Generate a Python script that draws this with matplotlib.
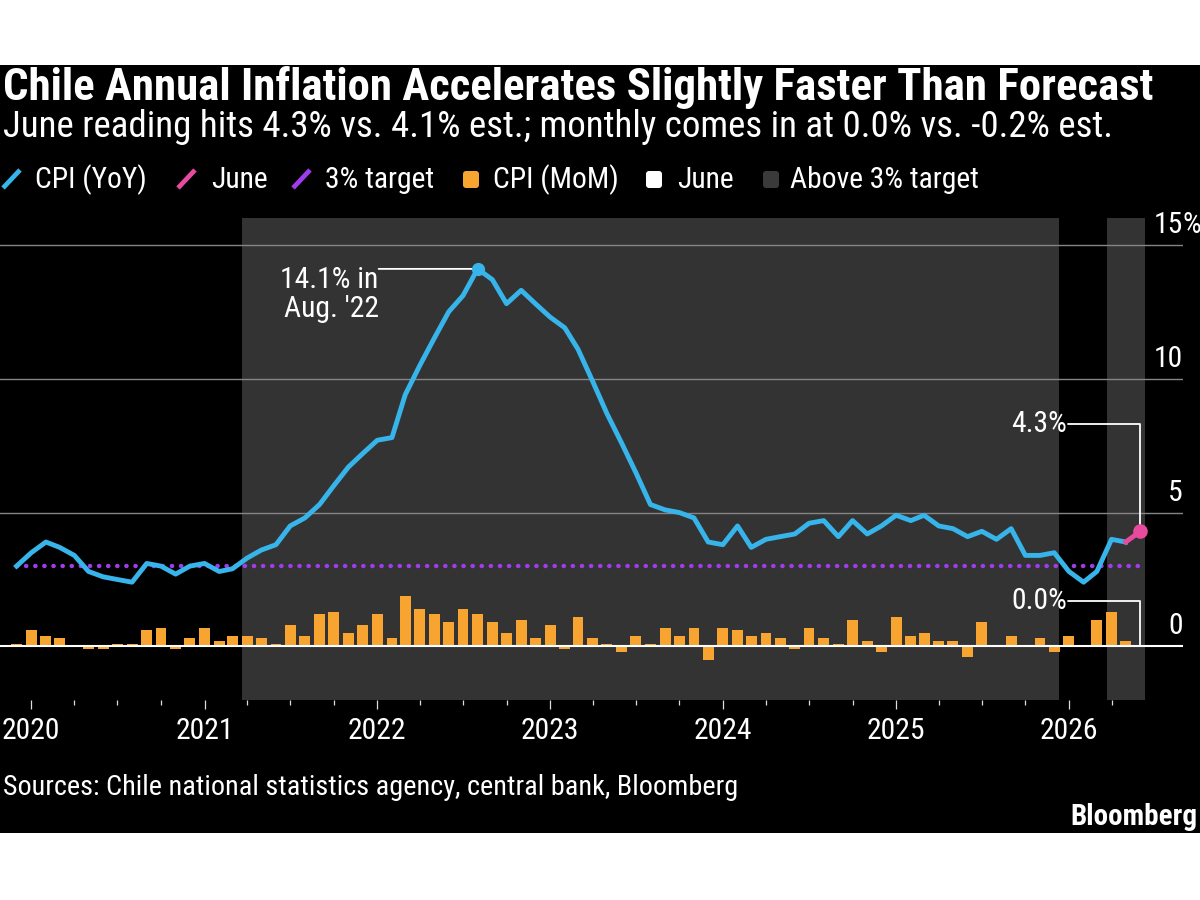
import os
import datetime as dt
import matplotlib
matplotlib.use("Agg")
import matplotlib.pyplot as plt
import matplotlib.dates as mdates
import matplotlib.transforms as mtransforms
from matplotlib import font_manager as fm
from matplotlib.patches import Rectangle, FancyBboxPatch
from matplotlib.lines import Line2D
import numpy as np
import pandas as pd

# ---------------- data ----------------
start_month = "2019-12"
cpi_yoy = [3.0,
           3.5, 3.9, 3.7, 3.4, 2.8, 2.6, 2.5, 2.4, 3.1, 3.0, 2.7, 3.0,
           3.1, 2.8, 2.9, 3.3, 3.6, 3.8, 4.5, 4.8, 5.3, 6.0, 6.7, 7.2,
           7.7, 7.8, 9.4, 10.5, 11.5, 12.5, 13.1, 14.1, 13.7, 12.8, 13.3, 12.8,
           12.3, 11.9, 11.1, 9.9, 8.7, 7.6, 6.5, 5.3, 5.1, 5.0, 4.8, 3.9,
           3.8, 4.5, 3.7, 4.0, 4.1, 4.2, 4.6, 4.7, 4.1, 4.7, 4.2, 4.5,
           4.9, 4.7, 4.9, 4.5, 4.4, 4.1, 4.3, 4.0, 4.4, 3.4, 3.4, 3.5,
           2.8, 2.4, 2.8, 4.0, 3.9, 4.3]
cpi_mom = [0.1,
           0.6, 0.4, 0.3, 0.0, -0.1, -0.1, 0.1, 0.1, 0.6, 0.7, -0.1, 0.3,
           0.7, 0.2, 0.4, 0.4, 0.3, 0.1, 0.8, 0.4, 1.2, 1.3, 0.5, 0.8,
           1.2, 0.3, 1.9, 1.4, 1.2, 0.9, 1.4, 1.2, 0.9, 0.5, 1.0, 0.3,
           0.8, -0.1, 1.1, 0.3, 0.1, -0.2, 0.4, 0.1, 0.7, 0.4, 0.7, -0.5,
           0.7, 0.6, 0.4, 0.5, 0.3, -0.1, 0.7, 0.3, 0.1, 1.0, 0.2, -0.2,
           1.1, 0.4, 0.5, 0.2, 0.2, -0.4, 0.9, 0.0, 0.4, 0.0, 0.3, -0.2,
           0.4, 0.0, 1.0, 1.3, 0.2, 0.0]
target_rate = 3.0
shade_periods = [("2021-04", "2025-12"), ("2026-04", "2026-06")]
y_ticks = [0, 5, 10, 15]
tick_years = ["2020", "2021", "2022", "2023", "2024", "2025", "2026"]
peak_label = "14.1% in\nAug. '22"
last_yoy_label = "4.3%"
last_mom_label = "0.0%"
title = "Chile Annual Inflation Accelerates Slightly Faster Than Forecast"
subtitle = "June reading hits 4.3% vs. 4.1% est.; monthly comes in at 0.0% vs. -0.2% est."
legend_labels = ["CPI (YoY)", "June", "3% target", "CPI (MoM)", "June", "Above 3% target"]
source = "Sources: Chile national statistics agency, central bank, Bloomberg"
brand = "Bloomberg"

# ---------------- style ----------------
BLUE = "#37b4ea"
PINK = "#e84a9f"
PURPLE = "#9f3ded"
ORANGE = "#f7a431"
SHADE = "#333333"
GRID = "#858585"

def find_font(names):
    for nm in names:
        for f in fm.fontManager.ttflist:
            if os.path.basename(f.fname).lower() == nm.lower():
                return f.fname
    return None

reg_path = find_font(["RobotoCondensed-Regular.ttf", "LiberationSansNarrow-Regular.ttf",
                      "DejaVuSansCondensed.ttf"])
bold_path = find_font(["RobotoCondensed-Bold.ttf", "LiberationSansNarrow-Bold.ttf",
                       "DejaVuSansCondensed-Bold.ttf"])
fp_reg = fm.FontProperties(fname=reg_path) if reg_path else fm.FontProperties(family="DejaVu Sans")
fp_bold = fm.FontProperties(fname=bold_path) if bold_path else fm.FontProperties(family="DejaVu Sans", weight="bold")

W, H, DPI = 1200, 900, 100
fig = plt.figure(figsize=(W / DPI, H / DPI), dpi=DPI, facecolor="white")
# pixel transform, origin top-left
T = mtransforms.Affine2D().scale(1 / DPI, -1 / DPI).translate(0, H / DPI) + fig.dpi_scale_trans

fig.patches.append(Rectangle((0, 65), W, 833 - 65, transform=T, facecolor="black",
                             edgecolor="none", zorder=-10))

renderer = fig.canvas.get_renderer()

def ptext(x, y, s, fp, size=16, **kw):
    return fig.text(x, y, s, transform=T, fontproperties=fp, fontsize=size, color="white", **kw)

def fit(t, width):
    w = t.get_window_extent(renderer=renderer).width
    t.set_fontsize(t.get_fontsize() * width / w)
    return t.get_fontsize()

t_title = ptext(3, 100, title, fp_bold, 24, va="baseline", ha="left")
fit(t_title, 1152)
t_sub = ptext(3, 137, subtitle, fp_reg, 20, va="baseline", ha="left")
fit(t_sub, 1109)

# legend
leg_y = 188
t_probe = ptext(790, leg_y, legend_labels[5], fp_reg, 16, va="baseline", ha="left")
LS = fit(t_probe, 190)
leg_text_x = [35, 211, 325, 493, 677]
for x, s in zip(leg_text_x, legend_labels[:5]):
    ptext(x, leg_y, s, fp_reg, LS, va="baseline", ha="left")
for x0, c in zip([3, 178, 293], [BLUE, PINK, PURPLE]):
    fig.add_artist(Line2D([x0, x0 + 17], [188, 170], transform=T, color=c, lw=3.4,
                          solid_capstyle="butt"))
for x0, c in zip([463, 646, 763], [ORANGE, "white", "#3a3a3a"]):
    fig.add_artist(FancyBboxPatch((x0, 171), 16, 17, transform=T, facecolor=c,
                                  edgecolor="none", boxstyle="round,pad=0,rounding_size=3"))

t_src = ptext(3, 795, source, fp_reg, 16, va="baseline", ha="left")
fit(t_src, 737)
t_brand = ptext(1197, 825, brand, fp_bold, 16, va="baseline", ha="right")
fit(t_brand, 127)

# ---------------- axes ----------------
ax = fig.add_axes([0, 1 - 700 / H, 1183 / W, (700 - 218) / H])
ax.set_facecolor("none")
ax.set_zorder(2)
for s in ax.spines.values():
    s.set_visible(False)

dates = pd.date_range(start_month + "-01", periods=len(cpi_yoy), freq="MS")
xd = mdates.date2num(dates.to_pydatetime())
yoy = np.array(cpi_yoy)
mom = np.array(cpi_mom)
n = len(xd)

ax.set_xlim(mdates.date2num(dt.datetime(2019, 10, 27)), mdates.date2num(dt.datetime(2026, 8, 30)))
ax.set_ylim(-2, 16)

pad_days = 10.5
for a, b in shade_periods:
    x0 = mdates.date2num(pd.Timestamp(a + "-01").to_pydatetime()) - pad_days
    x1 = mdates.date2num(pd.Timestamp(b + "-01").to_pydatetime()) + pad_days
    ax.axvspan(x0, x1, color=SHADE, lw=0, zorder=0.5)

for v in y_ticks[1:]:
    ax.axhline(v, color=GRID, lw=1.0, zorder=1)

bar_colors = [ORANGE] * (n - 1) + ["white"]
ax.bar(xd, mom, width=23, color=bar_colors, lw=0, zorder=3)
ax.axhline(0, color="white", lw=1.5, zorder=4)

ax.plot(xd, np.full(n, target_rate), color=PURPLE, lw=3.2,
        linestyle=(0, (0.05, 2.0)), dash_capstyle="round", zorder=4.5)

ax.plot(xd[:-1], yoy[:-1], color=BLUE, lw=3.5, zorder=5, solid_joinstyle="round")
ax.plot(xd[-2:], yoy[-2:], color=PINK, lw=3.5, zorder=5)
ax.plot(xd[-1], yoy[-1], "o", color=PINK, ms=10.5, mec="none", zorder=6)
ip = int(np.argmax(yoy))
ax.plot(xd[ip], yoy[ip], "o", color=BLUE, ms=9.5, mec="none", zorder=6)

# peak annotation
ax.annotate("", xy=(xd[ip], yoy[ip]), xytext=(-99, 0), textcoords="offset pixels",
            arrowprops=dict(arrowstyle="-", color="white", lw=1.3, shrinkA=0, shrinkB=0),
            zorder=5.5)
ax.annotate(peak_label, xy=(xd[ip], yoy[ip]), xytext=(-99, 3), textcoords="offset pixels",
            ha="right", va="top", color="white", fontproperties=fp_reg, fontsize=LS,
            linespacing=1.05)

# last value annotations
for yv, dy, lbl in [(yoy[-1], 107, last_yoy_label), (mom[-1], 45, last_mom_label)]:
    ax.annotate("", xy=(xd[-1], yv), xytext=(-72, dy), textcoords="offset pixels",
                arrowprops=dict(arrowstyle="-", color="white", lw=1.3, shrinkA=0, shrinkB=0,
                                connectionstyle="angle,angleA=0,angleB=90,rad=0"),
                zorder=5.5, annotation_clip=False)
    ax.annotate(lbl, xy=(xd[-1], yv), xytext=(-73, dy), textcoords="offset pixels",
                ha="right", va="center", color="white", fontproperties=fp_reg, fontsize=LS,
                annotation_clip=False)

# right-side y labels
for v in y_ticks:
    ax.annotate(str(v), xy=(1, v), xycoords=("axes fraction", "data"), xytext=(0, 20),
                textcoords="offset pixels", ha="right", va="center", color="white",
                fontproperties=fp_reg, fontsize=LS, annotation_clip=False)
ax.annotate("%", xy=(1, y_ticks[-1]), xycoords=("axes fraction", "data"), xytext=(0, 20),
            textcoords="offset pixels", ha="left", va="center", color="white",
            fontproperties=fp_reg, fontsize=LS, annotation_clip=False)
ax.set_yticks([])

# x ticks
year_pos = [mdates.date2num(dt.datetime(int(y), 1, 1)) for y in tick_years]
ax.set_xticks(year_pos)
ax.set_xticklabels(tick_years, fontproperties=fp_reg, fontsize=LS, color="white")
minor_pos = [mdates.date2num(dt.datetime(int(y), m, 1)) for y in tick_years for m in (4, 7, 10)]
minor_pos = [p for p in minor_pos if p <= xd[-1]]
ax.set_xticks(minor_pos, minor=True)
ax.tick_params(axis="x", which="major", length=9 * 0.72, width=0.9, color="#dddddd", pad=6,
               direction="out")
ax.tick_params(axis="x", which="minor", length=5 * 0.72, width=0.9, color="#dddddd",
               direction="out")

fig.savefig("out.png", dpi=DPI, facecolor="white")
